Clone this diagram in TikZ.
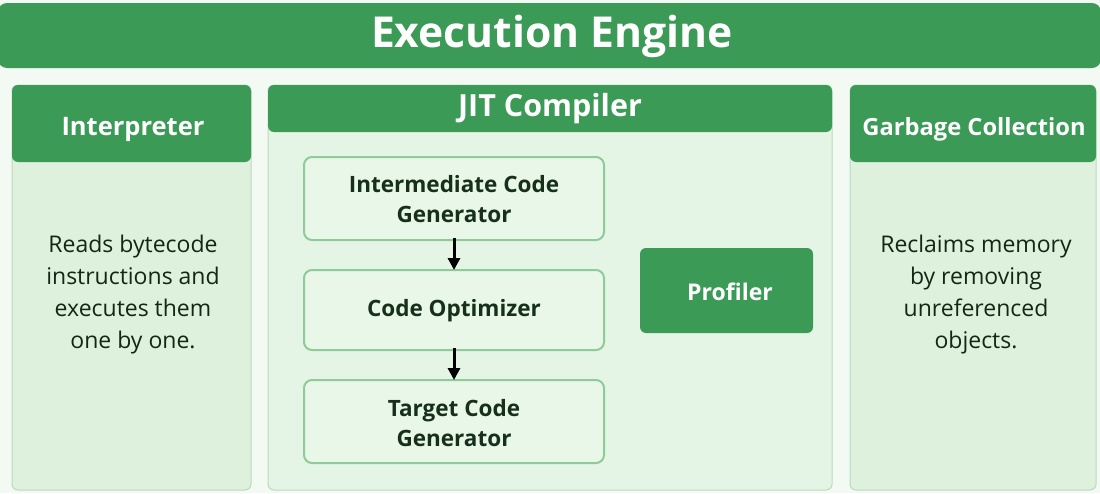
\documentclass[tikz,border=0pt]{standalone}
\usepackage{fontspec}
\setmainfont{Open Sans}
\definecolor{bg}{HTML}{F3FAF4}
\definecolor{hdr}{HTML}{3A9A56}
\definecolor{panel}{HTML}{DDF1DD}
\definecolor{panelb}{HTML}{B9D9BD}
\definecolor{jitbody}{HTML}{E5F5E5}
\definecolor{inner}{HTML}{E9F7E9}
\definecolor{innerb}{HTML}{8FCB98}
\definecolor{txt}{HTML}{142614}
\definecolor{boxtxt}{HTML}{17301A}
\tikzset{
  panelbox/.style={draw=panelb, line width=1pt, fill=panel, rounded corners=6pt},
  hdrbox/.style={fill=hdr, rounded corners=6pt},
  innerbox/.style={draw=innerb, line width=2pt, fill=inner, rounded corners=8pt},
  hdrtext/.style={text=white, font=\bfseries\fontsize{24}{28}\selectfont, align=center},
  bodytext/.style={text=txt, font=\fontsize{23}{32}\selectfont, align=center},
  boxtext/.style={text=boxtxt, font=\bfseries\fontsize{22.5}{30}\selectfont, align=center},
  flow/.style={-{Triangle[length=12pt,width=12pt]}, line width=3pt, black},
}
\usetikzlibrary{arrows.meta}
\begin{document}
\begin{tikzpicture}[x=1pt,y=-1pt]
\useasboundingbox (0,0) rectangle (1100,493);
\fill[bg] (0,0) rectangle (1100,493);
% title
\fill[hdr, rounded corners=9pt] (-2,3) rectangle (1101,68);
\node[text=white, font=\bfseries\fontsize{42.6}{50}\selectfont] (title) at (552,36) {Execution Engine};
% interpreter
\draw[panelbox] (12,85) rectangle (251,490);
\fill[hdrbox] (12,85) rectangle (251,162);
\node[hdrtext, font=\bfseries\fontsize{25.5}{30}\selectfont] (interp) at (133,129) {Interpreter};
\node[bodytext] (interptxt) at (133,295) {Reads bytecode\\instructions and\\executes them\\one by one.};
% JIT
\draw[panelbox, fill=jitbody] (268,85) rectangle (832,490);
\fill[hdrbox] (268,85) rectangle (832,132);
\node[hdrtext, font=\bfseries\fontsize{30.5}{34}\selectfont] (jit) at (550,109) {JIT Compiler};
\draw[innerbox] (304,157) rectangle (604,240);
\node[boxtext] (icg) at (454,199) {Intermediate Code\\Generator};
\draw[innerbox] (304,270) rectangle (604,350);
\node[boxtext] (opt) at (454,311) {Code Optimizer};
\draw[innerbox] (304,380) rectangle (604,463);
\node[boxtext] (tcg) at (454,423) {Target Code\\Generator};
\coordinate (a1) at (454,238);
\coordinate (b1) at (454,270);
\coordinate (a2) at (454,348);
\coordinate (b2) at (454,380);
\draw[flow] (a1) -- (b1);
\draw[flow] (a2) -- (b2);
\fill[hdrbox] (640,248) rectangle (813,333);
\node[boxtext, text=white, font=\bfseries\fontsize{23}{30}\selectfont] (prof) at (730,292) {Profiler};
% GC
\draw[panelbox] (850,85) rectangle (1096,490);
\fill[hdrbox] (850,85) rectangle (1096,162);
\node[hdrtext, font=\bfseries\fontsize{23.7}{28}\selectfont] (gc) at (974,129) {Garbage Collection};
\node[bodytext] (gctxt) at (976,295) {Reclaims memory\\by removing\\unreferenced\\objects.};
\end{tikzpicture}
\end{document}
